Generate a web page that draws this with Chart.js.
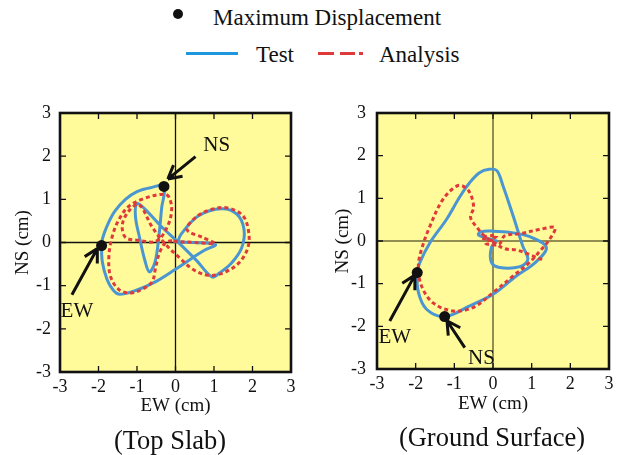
<!DOCTYPE html>
<html><head><meta charset="utf-8">
<script src="https://cdn.jsdelivr.net/npm/chart.js@4.4.1/dist/chart.umd.min.js"></script>
<style>
html,body{margin:0;padding:0;background:#fff;}
body{width:618px;height:455px;position:relative;overflow:hidden;font-family:"Liberation Serif","Times New Roman",serif;color:#111;}
.abs{position:absolute;white-space:nowrap;}
canvas{position:absolute;}
</style></head><body>

<div class="abs" style="left:173px;top:9px;width:10px;height:10px;border-radius:50%;background:#111"></div>
<div class="abs" style="left:213px;top:4px;font-size:23px;line-height:28px">Maximum Displacement</div>
<div class="abs" style="left:186px;top:52px;width:52px;height:3px;background:#1f97dc"></div>
<div class="abs" style="left:256px;top:41px;font-size:23px;line-height:28px">Test</div>
<div class="abs" style="left:318px;top:52px;width:16px;height:3px;background:#e0393a"></div>
<div class="abs" style="left:340px;top:52px;width:15px;height:3px;background:#e0393a"></div>
<div class="abs" style="left:359px;top:52px;width:4px;height:3px;background:#e0393a"></div>
<div class="abs" style="left:379px;top:41px;font-size:23px;line-height:28px">Analysis</div>

<canvas id="c1" width="305" height="330" style="left:0;top:100px"></canvas>
<canvas id="c2" width="308" height="330" style="left:310px;top:100px"></canvas>

<div class="abs" style="left:70px;top:425px;width:200px;text-align:center;font-size:26.5px;line-height:30px">(Top Slab)</div>
<div class="abs" style="left:392px;top:422px;width:200px;text-align:center;font-size:26.5px;line-height:30px">(Ground Surface)</div>

<script>
// ---- data (cm) ----
const axisTicks = [-3, -2, -1, 0, 1, 2, 3];

// Top Slab: Test orbit (EW, NS)
const topTestEW = [0.05,0.15,0.6,1.2,1.6,1.78,1.72,1.45,1.15,0.95,0.55,0.1,-0.4,-0.8,-1.0,-1.04,-0.93,-0.8,-0.68,-0.53,-0.43,-0.36,-0.3,-0.65,-1.0,-1.3,-1.58,-1.78,-1.9,-1.92,-1.9,-1.78,-1.62,-1.45,-1.0,-0.5,0.0,0.4,0.75,1.04,0.5,-0.05];
const topTestNS = [0.0,0.2,0.62,0.78,0.65,0.3,-0.12,-0.48,-0.7,-0.8,-0.42,-0.02,0.4,0.78,0.9,0.6,0.1,-0.4,-0.68,-0.45,0.15,0.8,1.3,1.27,1.18,1.0,0.72,0.38,0.08,-0.07,-0.45,-0.85,-1.1,-1.2,-1.1,-0.9,-0.62,-0.38,-0.18,-0.05,0.0,0.02];
// Top Slab: Analysis orbit
const topAnaEW = [-0.05,0.5,1.02,0.7,0.3,0.55,0.95,1.35,1.75,1.9,1.88,1.65,1.25,0.85,0.45,0.1,-0.25,-0.6,-0.95,-1.2,-1.38,-1.3,-0.95,-0.5,-0.22,-0.1,-0.17,-0.3,-0.78,-1.21,-1.47,-1.64,-1.73,-1.69,-1.47,-1.15,-0.8,-0.6,-0.52,-0.42,-0.25,0.0];
const topAnaNS = [0.03,0.0,-0.02,0.12,0.3,0.6,0.77,0.8,0.62,0.25,-0.12,-0.47,-0.7,-0.76,-0.62,-0.35,-0.05,0.35,0.88,0.74,0.42,0.12,0.05,0.03,0.35,0.75,1.05,1.12,1.03,0.84,0.53,0.15,-0.32,-0.78,-1.09,-1.17,-1.05,-0.9,-0.6,-0.25,0.0,0.05];
// Top Slab: maximum displacement points
const topPeakEW = [-0.3, -1.92];
const topPeakNS = [1.3, -0.07];

// Ground Surface: Test orbit
const gndTestEW = [0.1,-0.2,-0.38,-0.3,0.0,0.45,0.95,1.38,1.1,0.6,0.0,-0.6,-1.25,-1.72,-1.93,-1.96,-1.89,-1.63,-1.2,-0.85,-0.6,-0.35,-0.1,0.1,0.26,0.52,0.77,0.9,0.7,0.17,-0.04,-0.04,0.1];
const gndTestNS = [0.0,0.08,0.15,0.22,0.23,0.2,0.1,-0.15,-0.5,-0.82,-1.25,-1.52,-1.77,-1.6,-1.2,-0.74,-0.5,-0.04,0.51,1.05,1.37,1.6,1.68,1.65,1.29,0.59,-0.12,-0.43,-0.6,-0.62,-0.5,-0.15,0.0];
// Ground Surface: Analysis orbit
const gndAnaEW = [0.0,-0.3,0.1,-0.2,0.15,0.3,0.7,1.2,1.6,1.45,1.2,0.95,0.52,0.0,-0.52,-1.03,-1.55,-1.85,-1.93,-1.85,-1.63,-1.29,-0.9,-0.64,-0.5,-0.58,-0.4,-0.2,0.05,0.3,0.6,0.95,1.3];
const gndAnaNS = [0.0,0.08,0.12,-0.05,-0.08,0.12,0.17,0.27,0.31,0.02,-0.25,-0.5,-0.82,-1.21,-1.56,-1.64,-1.45,-1.05,-0.59,-0.2,0.35,0.98,1.3,1.19,0.8,0.55,0.3,0.1,-0.05,-0.18,-0.21,-0.32,-0.45];
// Ground Surface: maximum displacement points
const gndPeakEW = [-1.96, -1.25];
const gndPeakNS = [-0.74, -1.77];

// arrow annotations (label, tailEW, tailNS, headEW, headNS, labelEW, labelNS)
const topArrows = [
  ['NS', 0.52, 1.99, -0.2, 1.47, 1.07, 2.24],
  ['EW', -2.69, -1.21, -2.03, -0.14, -2.56, -1.6]
];
const gndArrows = [
  ['EW', -2.67, -1.875, -2.02, -0.8, -2.54, -2.27],
  ['NS', -0.73, -2.5, -1.19, -1.87, -0.3, -2.76]
];

// ---- helpers ----
const pts = (xs, ys) => xs.map((x, i) => ({x: x, y: ys[i]}));
const FONT = '"Liberation Serif","Times New Roman",serif';

const framePlugin = {
  id: 'frame',
  beforeDraw(chart, args, o) {
    const {ctx, chartArea: a} = chart;
    ctx.save();
    ctx.fillStyle = o.bg;
    ctx.fillRect(a.left, a.top, a.width, a.height);
    ctx.restore();
  },
  beforeDatasetsDraw(chart, args, o) {
    const {ctx, chartArea: a, scales: {x, y}} = chart;
    const x0 = x.getPixelForValue(0), y0 = y.getPixelForValue(0);
    ctx.save();
    ctx.strokeStyle = o.zeroColor;
    ctx.lineWidth = o.zeroWidth;
    ctx.beginPath();
    ctx.moveTo(x0, a.top); ctx.lineTo(x0, a.bottom);
    ctx.moveTo(a.left, y0); ctx.lineTo(a.right, y0);
    ctx.stroke();
    ctx.restore();
  },
  afterDatasetsDraw(chart, args, o) {
    const {ctx, chartArea: a, scales: {x, y}} = chart;
    ctx.save();
    ctx.strokeStyle = '#111';
    ctx.lineWidth = 1.3;
    ctx.beginPath();
    const L = 6;
    axisTicks.forEach(v => {
      const px = x.getPixelForValue(v), py = y.getPixelForValue(v);
      ctx.moveTo(px, a.bottom); ctx.lineTo(px, a.bottom - L);
      ctx.moveTo(px, a.top); ctx.lineTo(px, a.top + L);
      ctx.moveTo(a.left, py); ctx.lineTo(a.left + L, py);
      ctx.moveTo(a.right, py); ctx.lineTo(a.right - L, py);
    });
    ctx.stroke();
    ctx.lineWidth = 2.6;
    ctx.strokeRect(a.left, a.top, a.width, a.height);
    ctx.restore();
  },
  afterDraw(chart, args, o) {
    const {ctx, scales: {x, y}} = chart;
    ctx.save();
    ctx.strokeStyle = '#111';
    ctx.fillStyle = '#111';
    ctx.lineWidth = 3;
    ctx.lineCap = 'butt';
    ctx.font = '21px ' + FONT;
    ctx.textAlign = 'center';
    ctx.textBaseline = 'middle';
    o.arrows.forEach(([lab, tx, ty, hx, hy, lx, ly]) => {
      const x1 = x.getPixelForValue(tx), y1 = y.getPixelForValue(ty);
      const x2 = x.getPixelForValue(hx), y2 = y.getPixelForValue(hy);
      const ang = Math.atan2(y2 - y1, x2 - x1);
      ctx.beginPath();
      ctx.moveTo(x1, y1); ctx.lineTo(x2, y2);
      [-1, 1].forEach(s => {
        ctx.moveTo(x2, y2);
        ctx.lineTo(x2 - 15 * Math.cos(ang + s * 0.5), y2 - 15 * Math.sin(ang + s * 0.5));
      });
      ctx.stroke();
      ctx.fillText(lab, x.getPixelForValue(lx), y.getPixelForValue(ly));
    });
    ctx.restore();
  }
};

function noPad(s) {
  s.paddingTop = 0; s.paddingBottom = 0; s.paddingLeft = 0; s.paddingRight = 0;
}

function build(id, test, ana, peaks, arrows, g) {
  return new Chart(document.getElementById(id), {
    type: 'scatter',
    data: {
      datasets: [
        {label: 'Maximum Displacement', data: peaks, pointRadius: 5.5, pointHoverRadius: 5.5,
         backgroundColor: '#111', borderWidth: 0, showLine: false, order: 0},
        {label: 'Analysis', data: ana, showLine: true, pointRadius: 0, borderColor: '#e0393a',
         borderWidth: 3, borderDash: [4, 3], tension: 0.35, fill: false, order: 1},
        {label: 'Test', data: test, showLine: true, pointRadius: 0, borderColor: '#4a96d2',
         borderWidth: 3, tension: 0.35, fill: false, order: 2}
      ]
    },
    options: {
      responsive: false, animation: false, devicePixelRatio: 1,
      layout: {padding: {left: 0, right: g.padR, top: 13, bottom: g.padB}},
      plugins: {
        legend: {display: false}, tooltip: {enabled: false},
        frame: {bg: '#fffa9a', zeroColor: g.zeroColor, zeroWidth: g.zeroWidth, arrows: arrows}
      },
      scales: {
        x: {
          type: 'linear', min: -3, max: 3,
          ticks: {stepSize: 1, color: '#111', font: {family: FONT, size: 18}, padding: g.xTickPad, maxRotation: 0},
          grid: {display: false, drawTicks: false}, border: {display: false},
          title: {display: true, text: 'EW (cm)', color: '#111', font: {family: FONT, size: 19},
                  padding: {top: 0, bottom: g.xTitlePad}},
          afterFit: s => { s.height = 50; noPad(s); }
        },
        y: {
          type: 'linear', min: -3, max: 3,
          ticks: {stepSize: 1, color: '#111', font: {family: FONT, size: 18}, padding: g.yTickPad},
          grid: {display: false, drawTicks: false}, border: {display: false},
          title: {display: true, text: 'NS (cm)', color: '#111', font: {family: FONT, size: 19},
                  padding: {top: g.yTitlePad, bottom: 0}},
          afterFit: s => { s.width = g.yW; noPad(s); }
        }
      }
    },
    plugins: [framePlugin]
  });
}

build('c1', pts(topTestEW, topTestNS), pts(topAnaEW, topAnaNS), pts(topPeakEW, topPeakNS), topArrows,
  {padR: 14, padB: 8, yW: 60, yTickPad: 9, yTitlePad: 11.5, xTickPad: 4, xTitlePad: 4.6,
   zeroColor: '#111', zeroWidth: 1.3});
build('c2', pts(gndTestEW, gndTestNS), pts(gndAnaEW, gndAnaNS), pts(gndPeakEW, gndPeakNS), gndArrows,
  {padR: 9, padB: 11, yW: 67, yTickPad: 11, yTitlePad: 21.6, xTickPad: 4, xTitlePad: 3.6,
   zeroColor: '#6e6a3c', zeroWidth: 1.5});
</script>
</body></html>
